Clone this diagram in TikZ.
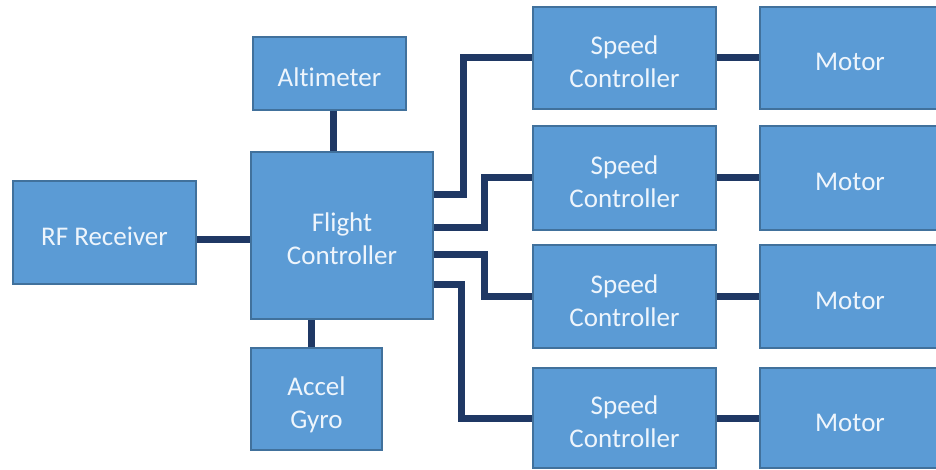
\documentclass[tikz,border=0pt]{standalone}
\usepackage{fontspec}
\setmainfont[Ligatures=NoCommon]{Carlito}
\usepackage{tikz}
\usetikzlibrary{calc}
\definecolor{boxfill}{HTML}{5B9BD5}
\definecolor{boxline}{HTML}{41719C}
\definecolor{linkcol}{HTML}{1F3864}
\definecolor{boxtext}{HTML}{EEF5FC}
\tikzset{
block/.style={draw=boxline, line width=1.5pt, fill=boxfill, text=boxtext, align=center, inner sep=0pt, text depth=0pt, font=\fontsize{27}{33}\selectfont},
oneline/.style={block, text height=26pt},
twoline/.style={block, text height=59pt},
link/.style={draw=linkcol, line width=7pt}
}

\begin{document}
\begin{tikzpicture}[x=1pt,y=-1pt]
\def\scw{183}
\def\mw{180}
\clip (0,0) rectangle (936,470);
\fill[white] (0,0) rectangle (936,470);
\node[oneline, minimum width=183, minimum height=103] (rf) at (104.5,232.5) {RF Receiver};
\node[oneline, minimum width=153, minimum height=73] (alt) at (329.5,73.5) {Altimeter};
\node[twoline, minimum width=182, minimum height=167] (fc) at (342,235.5) {Flight\\Controller};
\node[twoline, minimum width=131, minimum height=102] (acc) at (316.5,399) {Accel\\Gyro};
\node[twoline, minimum width=\scw, minimum height=102] (sc1) at (624.5,58) {Speed\\Controller};
\node[twoline, minimum width=\scw, minimum height=104] (sc2) at (624.5,178) {Speed\\Controller};
\node[twoline, minimum width=\scw, minimum height=103] (sc3) at (624.5,296.5) {Speed\\Controller};
\node[twoline, minimum width=\scw, minimum height=100] (sc4) at (624.5,418) {Speed\\Controller};
\node[oneline, minimum width=\mw, minimum height=102] (m1) at (850,58) {Motor};
\node[oneline, minimum width=\mw, minimum height=104] (m2) at (850,178) {Motor};
\node[oneline, minimum width=\mw, minimum height=103] (m3) at (850,296.5) {Motor};
\node[oneline, minimum width=\mw, minimum height=100] (m4) at (850,418) {Motor};
\draw[link] ([yshift=-7.5pt]rf.east) -- ([yshift=-4.5pt]fc.west);
\draw[link] ([xshift=3.5pt]alt.south) -- ([xshift=3.5pt]alt.south |- fc.north);
\draw[link] ([xshift=-5.5pt]acc.north) -- ([xshift=-5.5pt]acc.north |- fc.south);
\draw[link] ([yshift=40.5pt]fc.east) -- ++(30,0) |- (sc1.west);
\draw[link] ([yshift=7.5pt]fc.east) -- ++(51,0) |- (sc2.west);
\draw[link] ([yshift=-18.5pt]fc.east) -- ++(51,0) |- (sc3.west);
\draw[link] ([yshift=-48.5pt]fc.east) -- ++(28,0) |- (sc4.west);
\draw[link] (sc1) -- (m1);
\draw[link] (sc2) -- (m2);
\draw[link] (sc3) -- (m3);
\draw[link] (sc4) -- (m4);
\end{tikzpicture}
\end{document}
